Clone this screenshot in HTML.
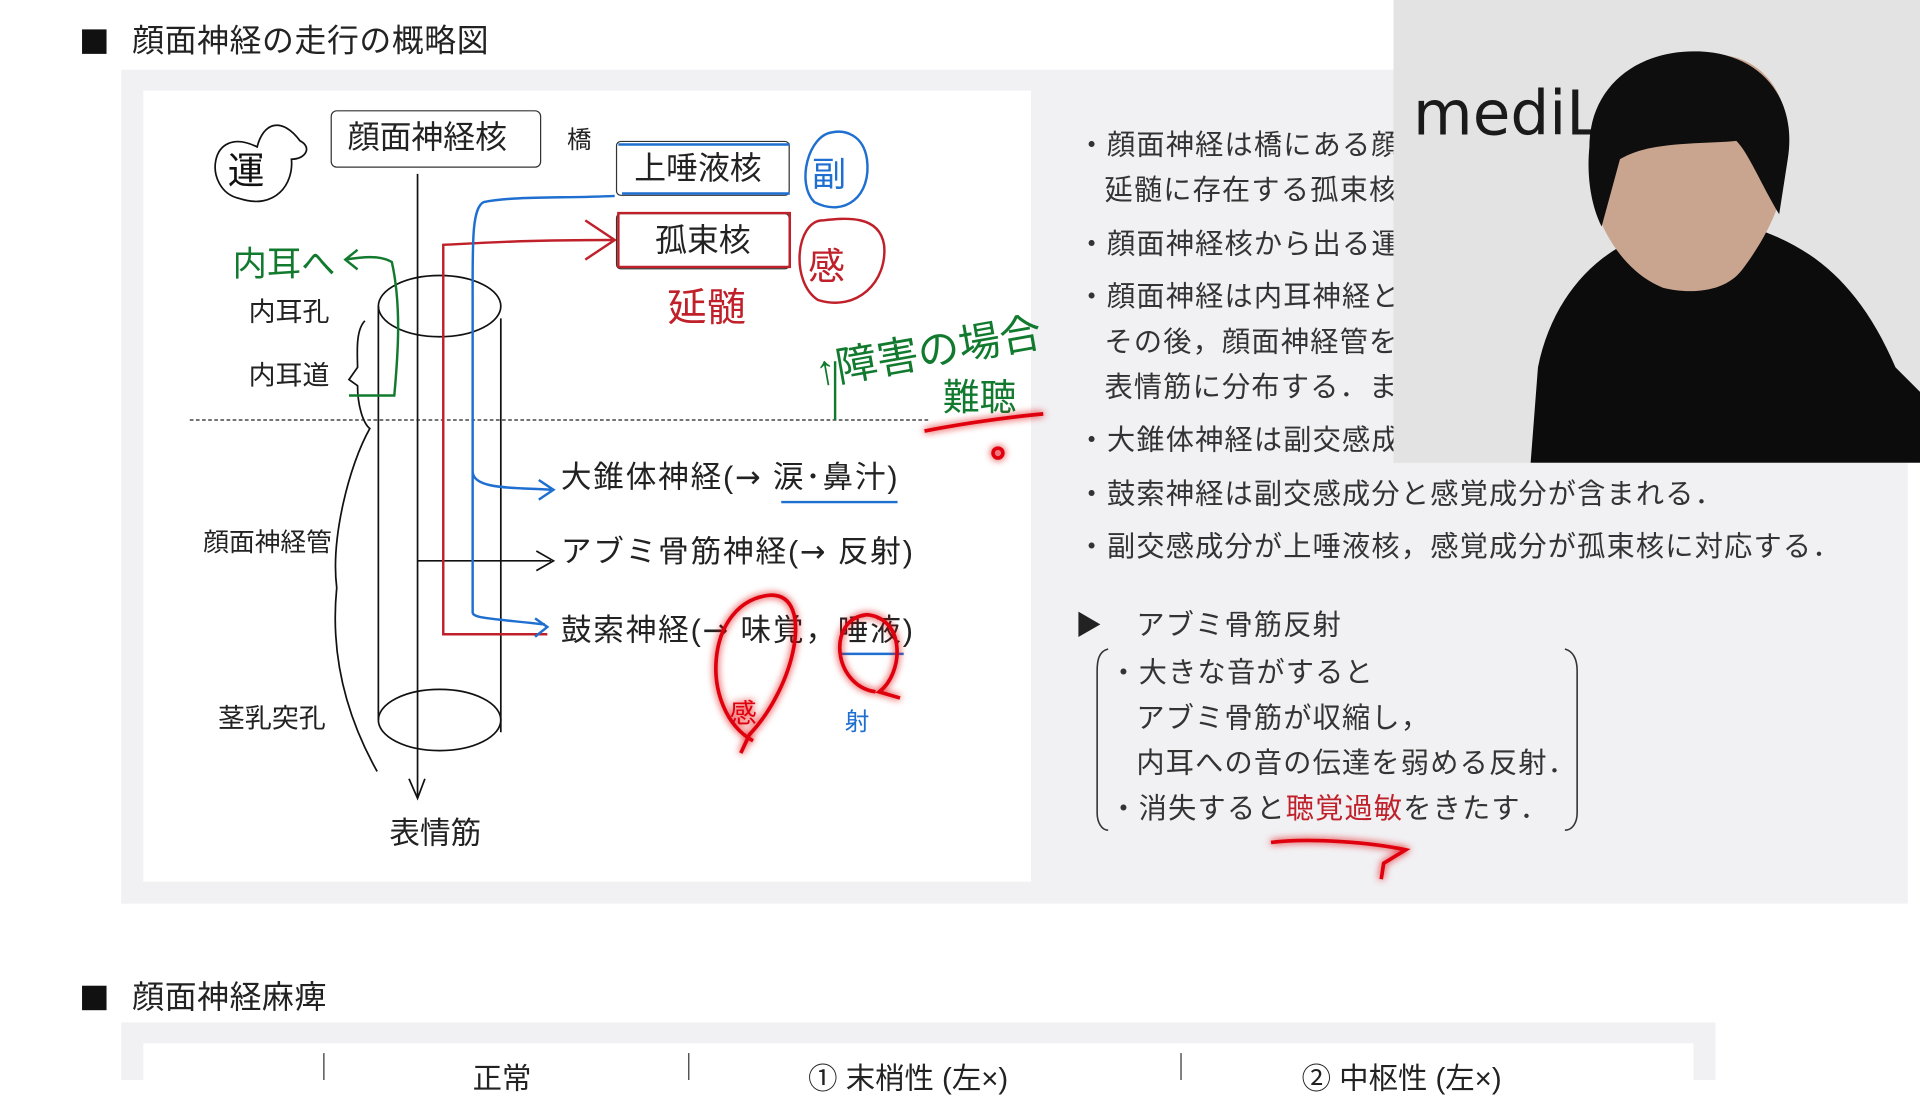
<!DOCTYPE html>
<html><head><meta charset="utf-8"><style>
html,body{margin:0;padding:0;width:1920px;height:1080px;overflow:hidden;background:#fff}
#s{position:absolute;left:0;top:0;width:1568px;height:882px;transform:scale(1.22449);transform-origin:0 0;font-family:"Liberation Sans","Noto Sans CJK JP",sans-serif;color:#222}
.t{position:absolute;white-space:nowrap;line-height:1}
.ar{font-family:"DejaVu Sans",sans-serif}
.in{padding-left:22px}
.ls{letter-spacing:1.5px}
</style></head><body><div id="s">
<div class="t" style="left:67px;top:24px;width:20px;height:20px;background:#111"></div>
<div class="t" style="left:108px;top:20px;font-size:26px;letter-spacing:0.5px">顔面神経の走行の概略図</div>
<div style="position:absolute;left:99px;top:57px;width:1459px;height:681px;background:#f1f0f3"></div>
<div style="position:absolute;left:117px;top:74px;width:725px;height:646px;background:#fff"></div>

<div class="t" style="left:67px;top:805px;width:20px;height:20px;background:#111"></div>
<div class="t" style="left:108px;top:801px;font-size:26px;letter-spacing:0.5px">顔面神経麻痺</div>
<div style="position:absolute;left:99px;top:835px;width:1302px;height:47px;background:#f1f0f3"></div>
<div style="position:absolute;left:117px;top:852px;width:1266px;height:30px;background:#fff"></div>
<div style="position:absolute;left:264px;top:860px;width:1px;height:22px;background:#333"></div>
<div style="position:absolute;left:562px;top:860px;width:1px;height:22px;background:#333"></div>
<div style="position:absolute;left:964px;top:860px;width:1px;height:22px;background:#333"></div>
<div class="t" style="left:386px;top:870px;font-size:24px">正常</div>
<div class="t" style="left:660px;top:870px;font-size:24px">① 末梢性 (左×)</div>
<div class="t" style="left:1063px;top:870px;font-size:24px">② 中枢性 (左×)</div>

<!-- right text -->
<div style="position:absolute;left:880px;top:100px;font-size:23px;line-height:37px;color:#333;letter-spacing:1px">
<div>・顔面神経は橋にある顔面神経核</div>
<div class="in">延髄に存在する孤束核</div>
<div style="margin-top:7px">・顔面神経核から出る運動</div>
<div style="margin-top:6px">・顔面神経は内耳神経と</div>
<div class="in">その後，顔面神経管を</div>
<div class="in">表情筋に分布する．ま</div>
<div style="margin-top:6px">・大錐体神経は副交感成分</div>
<div style="margin-top:7px">・鼓索神経は副交感成分と感覚成分が含まれる．</div>
<div style="margin-top:6px">・副交感成分が上唾液核，感覚成分が孤束核に対応する．</div>
</div>
<div class="t" style="left:878px;top:500px;font-size:22px">▶</div>
<div class="t" style="left:928px;top:499px;font-size:23px;color:#333;letter-spacing:1px">アブミ骨筋反射</div>
<div style="position:absolute;left:906px;top:531px;font-size:23px;line-height:37px;color:#333;letter-spacing:1px">
<div>・大きな音がすると</div>
<div class="in">アブミ骨筋が収縮し，</div>
<div class="in">内耳への音の伝達を弱める反射．</div>
<div>・消失すると<span style="color:#c0202a">聴覚過敏</span>をきたす．</div>
</div>

<!-- diagram text -->
<div style="position:absolute;left:270px;top:90px;width:172px;height:47px;border:1.5px solid #333;border-radius:5px;box-sizing:border-box"></div>
<div class="t" style="left:284px;top:99px;font-size:26px">顔面神経核</div>
<div class="t" style="left:463px;top:105px;font-size:20px">橋</div>
<div style="position:absolute;left:503px;top:115px;width:142px;height:45px;border:1.5px solid #333;border-radius:4px;box-sizing:border-box"></div>
<div class="t" style="left:518px;top:124px;font-size:26px">上唾液核</div>
<div style="position:absolute;left:503px;top:174px;width:142px;height:46px;border:1.5px solid #333;border-radius:4px;box-sizing:border-box"></div>
<div class="t" style="left:535px;top:183px;font-size:26px">孤束核</div>
<div class="t" style="left:203px;top:244px;font-size:22px">内耳孔</div>
<div class="t" style="left:203px;top:296px;font-size:22px">内耳道</div>
<div class="t" style="left:166px;top:433px;font-size:21px">顔面神経管</div>
<div class="t" style="left:178px;top:576px;font-size:22px">茎乳突孔</div>
<div class="t" style="left:318px;top:669px;font-size:25px">表情筋</div>
<div class="t ls" style="left:458px;top:377px;font-size:25px">大錐体神経(<span class="ar">→</span> 涙･鼻汁)</div>
<div class="t ls" style="left:458px;top:438px;font-size:25px">アブミ骨筋神経(<span class="ar">→</span> 反射)</div>
<div class="t ls" style="left:458px;top:502px;font-size:25px">鼓索神経(<span class="ar">→</span> 味覚，唾液)</div>

<!-- video -->
<div style="position:absolute;left:1138px;top:0;width:430px;height:378px;background:#e3e3e3;overflow:hidden">
<div class="t" style="left:16px;top:68px;font-size:50px;color:#1a1a1a;font-family:'DejaVu Sans',sans-serif">mediL</div>
<svg width="430" height="378" style="position:absolute;left:0;top:0">
<path d="M112,378 L118,300 C130,240 170,200 215,190 L290,185 C340,200 380,230 410,300 L430,320 L430,378 Z" fill="#0c0c0c"/>
<path d="M170,100 C180,55 230,40 270,45 C310,50 330,90 320,140 C318,170 300,200 285,220 C270,240 240,240 220,235 C195,225 175,200 165,170 C158,145 160,120 170,100 Z" fill="#c9a48e"/>
<path d="M160,120 C160,70 200,40 250,42 C300,44 330,80 322,130 L315,175 C300,150 290,125 280,115 C250,118 210,115 185,130 L170,185 C160,165 158,140 160,120 Z" fill="#0e0e0e"/>
</svg>
</div>

<svg width="1568" height="882" style="position:absolute;left:0;top:0" fill="none">
<defs><filter id="g" x="-30%" y="-30%" width="160%" height="160%"><feGaussianBlur stdDeviation="3" result="b"/><feMerge><feMergeNode in="b"/><feMergeNode in="SourceGraphic"/></feMerge></filter></defs>
<g stroke="#111" stroke-width="1.4">
<line x1="341" y1="142" x2="341" y2="650"/>
<path d="M334,636 L341,652 L347,636"/>
<ellipse cx="359" cy="250" rx="50" ry="25"/>
<ellipse cx="359" cy="588" rx="50" ry="25"/>
<line x1="309" y1="250" x2="309" y2="588"/>
<line x1="409" y1="260" x2="409" y2="598"/>
<line x1="341" y1="458" x2="450" y2="458"/>
<path d="M438,450 L452,458 L438,466"/>
<path d="M298,262 C290,270 292,290 292,300 L285,310 L292,315 C292,330 296,345 302,350 C285,380 270,440 275,480 C270,530 280,580 308,630"/>
<path d="M210,120 C170,100 165,155 195,162 C225,172 240,150 238,130 C250,130 255,120 245,115 C230,95 215,100 210,120Z"/>
<text x="186" y="150" font-size="30" fill="#111" stroke="none" font-family="Liberation Sans,Noto Sans CJK JP,sans-serif">運</text>
</g>
<line x1="155" y1="343" x2="760" y2="343" stroke="#222" stroke-width="1" stroke-dasharray="3,2"/>
<g stroke="#c0202a" stroke-width="2">
<path d="M447,518 L362,518 L362,200 C400,198 430,196 500,196"/>
<path d="M478,180 L502,196 L478,212"/>
<path d="M505,174 L645,174 L645,218 L505,218 Z"/>
<path d="M672,180 C650,180 645,230 668,245 C700,255 725,230 722,200 C718,175 690,178 672,180Z"/>
<text x="545" y="262" font-size="32" fill="#c0202a" stroke="none" font-family="Liberation Sans,Noto Sans CJK JP,sans-serif">延髄</text>
<text x="660" y="228" font-size="30" fill="#c0202a" stroke="none" font-family="Liberation Sans,Noto Sans CJK JP,sans-serif">感</text>
</g>
<g stroke="#1e6fd0" stroke-width="2">
<path d="M502,160 C460,162 420,160 395,165 C385,170 386,200 386,250 L386,500 C386,505 400,505 445,510"/>
<path d="M386,385 C386,400 420,398 450,400"/>
<path d="M440,392 L452,400 L440,408"/>
<path d="M437,505 L447,512 L437,520"/>
<path d="M505,118 L645,118 M508,158 L645,158"/>
<path d="M680,108 C660,110 650,150 665,165 C690,178 712,160 708,130 C705,110 690,106 680,108Z"/>
<line x1="638" y1="410" x2="733" y2="410"/>
<line x1="686" y1="534" x2="738" y2="534"/>
<text x="663" y="152" font-size="28" fill="#1e6fd0" stroke="none" font-family="Liberation Sans,Noto Sans CJK JP,sans-serif">副</text>
<text x="690" y="596" font-size="20" fill="#1e6fd0" stroke="none" font-family="Liberation Sans,Noto Sans CJK JP,sans-serif">射</text>
</g>
<g stroke="#127a2e" stroke-width="2">
<path d="M285,323 L322,323 C325,290 328,250 320,214 C310,208 295,210 282,212"/>
<path d="M292,204 L282,212 L292,220"/>
<line x1="682" y1="343" x2="682" y2="295"/>
<text x="190" y="225" font-size="28" fill="#127a2e" stroke="none" font-family="Liberation Sans,Noto Sans CJK JP,sans-serif">内耳へ</text>
<text x="668" y="315" font-size="34" fill="#127a2e" stroke="none" font-family="Liberation Sans,Noto Sans CJK JP,sans-serif" transform="rotate(-10 668 315)">↑障害の場合</text>
<text x="770" y="335" font-size="30" fill="#127a2e" stroke="none" font-family="Liberation Sans,Noto Sans CJK JP,sans-serif">難聴</text>
</g>
<g stroke="#e00010" stroke-width="3" filter="url(#g)">
<path d="M755,352 C790,345 830,340 852,338"/>
<circle cx="815" cy="370" r="4"/>
<path d="M615,605 C570,580 575,490 630,486 C665,486 650,560 612,600 L605,615"/>
<path d="M715,565 C680,560 675,505 708,502 C740,505 738,550 718,565 L735,570"/>
<path d="M1038,688 C1070,684 1120,688 1148,694 L1130,705 L1128,718"/>
<text x="596" y="590" font-size="22" fill="#e00010" stroke="none" font-family="Liberation Sans,Noto Sans CJK JP,sans-serif">感</text>
</g>
<path d="M905,530 C897,532 896,540 896,548 L896,664 C896,672 900,678 905,678 M1278,530 C1285,532 1288,538 1288,548 L1288,664 C1288,672 1284,678 1278,678" stroke="#333" stroke-width="1.3"/>
</svg>
</div></body></html>
